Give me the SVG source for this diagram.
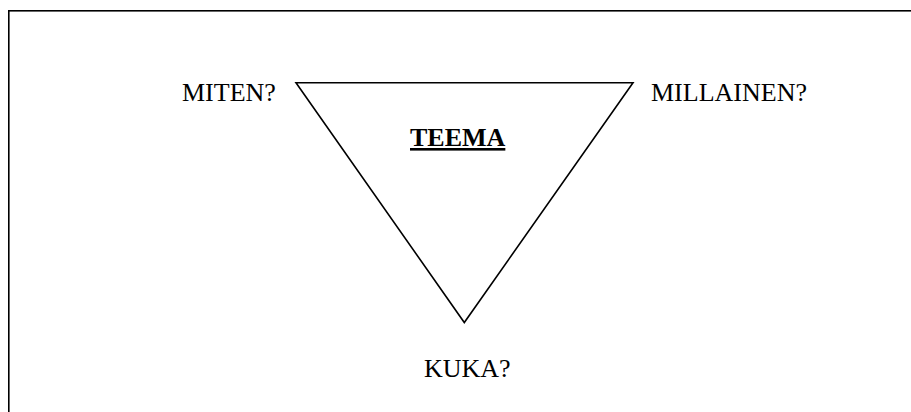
<svg xmlns="http://www.w3.org/2000/svg" width="911" height="412" viewBox="0 0 911 412">
  <style>
    .frame { fill: none; stroke: #000; stroke-width: 1.6; }
    .tri { fill: #fff; stroke: #000; stroke-width: 1.6; stroke-linejoin: miter; }
    .lbl { font-family: "Liberation Serif", "Times New Roman", serif; font-size: 26px; fill: #000; }
    .title { font-weight: bold; text-decoration: underline; }
  </style>
  <rect width="911" height="412" fill="#fff"/>
  <!-- outer frame, running off the right and bottom edges -->
  <rect class="frame" x="8.8" y="10.8" width="920" height="420"/>
  <g id="theme">
    <polygon class="tri" points="296,82.8 633,82.8 464.3,322.5"/>
    <text class="lbl title" x="410" y="146">TEEMA</text>
  </g>
  <g id="how">
    <text class="lbl" x="182" y="100.6">MITEN?</text>
  </g>
  <g id="what-kind">
    <text class="lbl" x="651" y="100.6">MILLAINEN?</text>
  </g>
  <g id="who">
    <text class="lbl" x="424" y="376.6">KUKA?</text>
  </g>
  <g id="connectors"/>
</svg>
